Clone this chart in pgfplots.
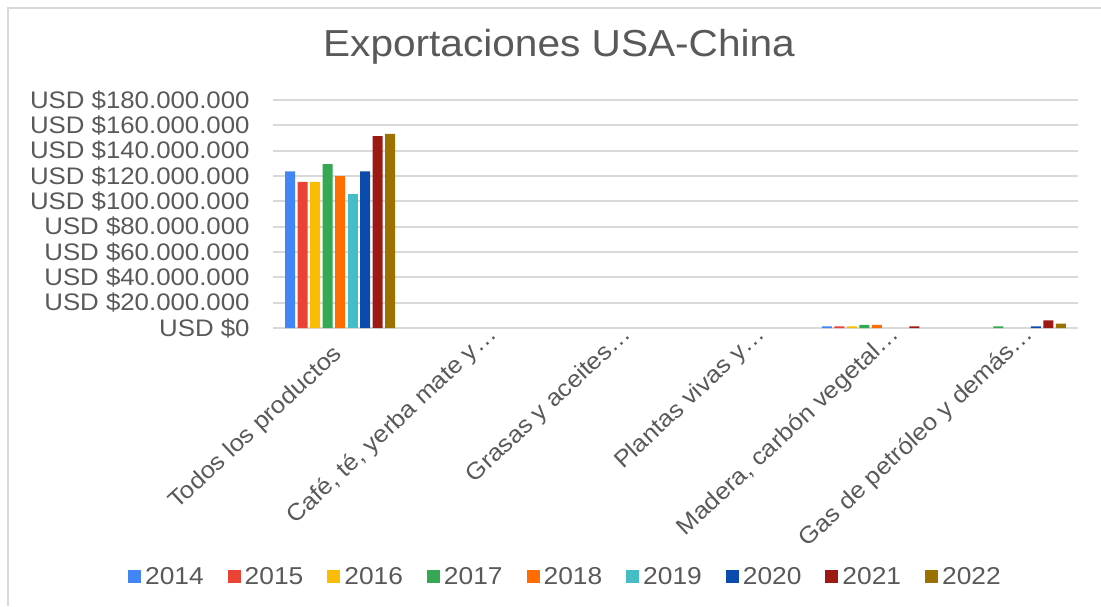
\documentclass[border=0pt]{standalone}
\usepackage{fontspec}
\setmainfont{Liberation Sans}[FakeStretch=1.08]
\usepackage{pgfplots}
\usepackage{pgfplotstable}
\pgfplotsset{compat=1.18}
\definecolor{txt}{HTML}{595959}
\definecolor{gridc}{HTML}{D9D9D9}
\definecolor{c14}{HTML}{4285F4}
\definecolor{c15}{HTML}{EA4335}
\definecolor{c16}{HTML}{FBBC04}
\definecolor{c17}{HTML}{34A853}
\definecolor{c18}{HTML}{FF6D01}
\definecolor{c19}{HTML}{46BDC6}
\definecolor{c20}{HTML}{0B4BAE}
\definecolor{c21}{HTML}{9C1A13}
\definecolor{c22}{HTML}{9B7100}

% values in millions of USD (nan = nothing visible)
\pgfplotstableread{
cat y2014 y2015 y2016 y2017 y2018 y2019 y2020 y2021 y2022
0 123.7 115.3 115.3 129.4 120.0 105.9 123.7 151.4 153.2
1 nan nan nan nan nan nan nan nan nan
2 nan nan nan nan nan nan nan nan nan
3 nan nan nan nan nan nan nan nan nan
4 1.3 1.3 1.3 2.4 2.4 nan nan 1.3 nan
5 nan nan nan 1.3 nan nan 1.3 6.0 3.4
}\datatable

\begin{document}
\begin{tikzpicture}[x=1pt,y=1pt]
\useasboundingbox (0,0) rectangle (550.5,303);
\draw[gridc, line width=1pt] (4,0) -- (4,299) -- (550.5,299);
\node[text=txt, font=\fontsize{18.8}{22}\selectfont] at (279.5,279.5) {Exportaciones USA-China};
\begin{axis}[
    at={(136.5pt,139pt)}, anchor=south west,
    width=402.5pt, height=114pt, scale only axis,
    xmin=-0.5, xmax=5.5, ymin=0, ymax=180,
    ybar=1.25pt, bar width=5pt,
    unbounded coords=discard,
    axis line style={draw=none},
    major tick length=0pt,
    ymajorgrids, grid style={gridc, line width=1pt},
    ytick={0,20,...,180},
    yticklabels={USD \$0, USD \$20.000.000, USD \$40.000.000, USD \$60.000.000, USD \$80.000.000, USD \$100.000.000, USD \$120.000.000, USD \$140.000.000, USD \$160.000.000, USD \$180.000.000},
    yticklabel style={text=txt, font=\fontsize{11.95}{14}\selectfont, anchor=east, inner sep=0pt, xshift=-11.5pt},
    xtick={0,...,5},
    xticklabels={Todos los productos\rule{14pt}{0pt}, {Café, té, yerba mate y…}, Grasas y aceites…, Plantas vivas y…, {Madera, carbón vegetal…}, Gas de petróleo y demás…},
    xticklabel style={text=txt, font=\fontsize{11.8}{14}\selectfont, inner sep=0pt, xshift=12pt, yshift=-4pt, rotate=43, anchor=base east},
    legend columns=9,
    legend style={draw=none, fill=none, at={(axis description cs:0.3645,-1.092)}, anchor=center,
        font=\fontsize{12.2}{14}\selectfont, text=txt,
        /tikz/every even column/.append style={column sep=10pt}},
    legend image code/.code={\fill[#1] (0pt,-3.25pt) rectangle (6.5pt,3.25pt);},
]
\addplot[fill=c14, draw=none] table[x=cat, y=y2014] {\datatable};
\addplot[fill=c15, draw=none] table[x=cat, y=y2015] {\datatable};
\addplot[fill=c16, draw=none] table[x=cat, y=y2016] {\datatable};
\addplot[fill=c17, draw=none] table[x=cat, y=y2017] {\datatable};
\addplot[fill=c18, draw=none] table[x=cat, y=y2018] {\datatable};
\addplot[fill=c19, draw=none] table[x=cat, y=y2019] {\datatable};
\addplot[fill=c20, draw=none] table[x=cat, y=y2020] {\datatable};
\addplot[fill=c21, draw=none] table[x=cat, y=y2021] {\datatable};
\addplot[fill=c22, draw=none] table[x=cat, y=y2022] {\datatable};
\legend{2014,2015,2016,2017,2018,2019,2020,2021,2022}
\end{axis}
\end{tikzpicture}
\end{document}
